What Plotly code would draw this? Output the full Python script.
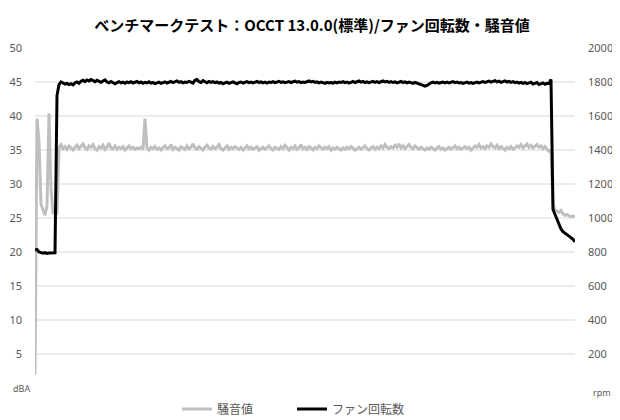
import plotly.graph_objects as go

# ---- data ----
noise_dba = [
    2.0, 39.6, 36.3, 27.0, 26.2, 25.4, 26.8, 40.4, 29.2, 25.8, 26.0, 25.6,
    35.4, 35.8, 35.2, 35.5, 35.1, 35.6, 35.3, 35.0, 35.4, 35.7,
    35.2, 35.5, 35.9, 35.3, 35.1, 35.6, 35.4, 35.8, 35.2, 35.0,
    35.5, 35.3, 35.7, 35.1, 35.4, 36.0, 35.3, 35.2, 35.6, 35.1,
    35.4, 35.2, 35.5, 35.0, 35.3, 35.6, 35.2, 35.4, 35.1, 35.3,
    35.2, 35.4, 35.1, 39.6, 35.3, 35.0, 35.4, 35.2, 35.5, 35.1,
    35.3, 35.0, 35.4, 35.6, 35.2, 35.3, 35.8, 35.1, 35.4, 35.2,
    35.0, 35.5, 35.3, 35.1, 35.6, 35.2, 35.4, 35.9, 35.3, 35.1,
    35.5, 35.2, 35.0, 35.4, 35.7, 35.3, 35.1, 35.5, 35.2, 35.4,
    35.8, 35.2, 35.0, 35.3, 35.6, 35.1, 35.4, 35.2, 35.5, 35.3,
    35.1, 35.4, 35.0, 35.3, 35.6, 35.2, 35.4, 35.1, 35.3, 35.5,
    35.0, 35.2, 35.4, 35.1, 35.3, 35.6, 35.2, 35.0, 35.4, 35.3,
    35.1, 35.5, 35.2, 35.7, 35.3, 35.0, 35.4, 35.2, 35.6, 35.1,
    35.3, 35.8, 35.2, 35.4, 35.1, 35.5, 35.3, 35.0, 35.4, 35.2,
    35.6, 35.3, 35.1, 35.4, 35.2, 35.5, 35.0, 35.3, 35.1, 35.4,
    35.2, 35.0, 35.3, 35.1, 35.4, 35.2, 35.5, 35.3, 35.0, 35.2,
    35.4, 35.1, 35.3, 35.6, 35.2, 35.0, 35.3, 35.5, 35.1, 35.4,
    35.2, 35.6, 35.3, 35.8, 35.4, 35.2, 35.5, 35.3, 35.7, 35.4,
    35.9, 35.3, 35.6, 35.2, 35.5, 35.8, 35.4, 35.2, 35.6, 35.3,
    35.1, 35.4, 35.2, 35.0, 35.3, 35.1, 35.4, 35.2, 35.0, 35.3,
    35.5, 35.1, 35.3, 35.0, 35.2, 35.4, 35.1, 35.3, 35.6, 35.2,
    35.4, 35.1, 35.3, 35.5, 35.2, 35.4, 35.0, 35.3, 35.6, 35.4,
    35.8, 35.3, 35.5, 35.2, 35.6, 35.4, 35.9, 35.5, 35.3, 35.7,
    35.2, 35.5, 35.3, 35.0, 35.4, 35.2, 35.5, 35.1, 35.3, 35.6,
    35.4, 35.8, 35.3, 35.6, 35.9, 35.4, 35.7, 35.3, 35.5, 35.8,
    35.4, 35.6, 35.2, 35.5, 35.1, 34.8, 35.0,
    27.0, 26.2, 26.0, 25.8, 26.1, 25.6, 25.4, 25.5, 25.3, 25.2, 25.3, 25.2,
]

fan_rpm = [
    812, 815, 800, 795, 793, 796, 792, 794, 795, 793, 795, 1720, 1785, 1800,
    1795, 1788, 1792, 1785, 1790, 1783, 1795, 1800, 1792, 1805,
    1810, 1802, 1812, 1806, 1815, 1808, 1802, 1810, 1804, 1798,
    1806, 1812, 1800, 1795, 1803, 1798, 1790, 1797, 1802, 1795,
    1799, 1793, 1800, 1796, 1802, 1794, 1798, 1803, 1795, 1800,
    1792, 1798, 1795, 1801, 1793, 1797, 1790, 1796, 1799, 1792,
    1797, 1801, 1794, 1799, 1803, 1796, 1800, 1806, 1798, 1802,
    1795, 1800, 1797, 1804, 1799, 1793, 1810, 1815, 1802, 1797,
    1808, 1800, 1795, 1803, 1798, 1802, 1796, 1800, 1793, 1797,
    1790, 1795, 1799, 1792, 1797, 1801, 1795, 1790, 1797, 1800,
    1794, 1798, 1802, 1796, 1800, 1795, 1799, 1803, 1797, 1801,
    1795, 1799, 1794, 1800, 1797, 1802, 1796, 1800, 1804, 1798,
    1801, 1796, 1799, 1803, 1797, 1800, 1805, 1799, 1802, 1796,
    1800, 1797, 1802, 1806, 1800, 1804, 1798, 1801, 1795, 1799,
    1796, 1792, 1798, 1794, 1797, 1793, 1799, 1795, 1800, 1797,
    1802, 1796, 1800, 1794, 1798, 1803, 1797, 1800, 1806, 1799,
    1803, 1797, 1801, 1796, 1800, 1804, 1798, 1802, 1797, 1800,
    1806, 1800, 1804, 1798, 1802, 1797, 1801, 1795, 1799, 1803,
    1797, 1801, 1795, 1800, 1796, 1792, 1798, 1794, 1790, 1786,
    1782, 1775, 1780, 1790, 1795, 1799, 1794, 1798, 1793, 1797,
    1800, 1795, 1799, 1794, 1798, 1802, 1796, 1800, 1794, 1797,
    1792, 1796, 1799, 1793, 1797, 1792, 1796, 1800, 1795, 1798,
    1802, 1797, 1800, 1805, 1799, 1803, 1808, 1801, 1805, 1798,
    1803, 1807, 1800, 1804, 1798, 1802, 1796, 1800, 1794, 1798,
    1792, 1797, 1790, 1795, 1799, 1788, 1793, 1797, 1785, 1791,
    1795, 1787, 1792, 1790,
    1815, 1050, 1020, 985, 955, 935, 920, 912, 905, 895, 885, 875, 860,
]

samples = list(range(len(noise_dba)))

dba_ticks = [5, 10, 15, 20, 25, 30, 35, 40, 45, 50]
rpm_ticks = [200, 400, 600, 800, 1000, 1200, 1400, 1600, 1800, 2000]

title_text = "ベンチマークテスト：OCCT 13.0.0(標準)/ファン回転数・騒音値"
noise_name = "騒音値"
fan_name = "ファン回転数"

# ---- figure ----
JP = "Noto Sans CJK JP"
TICK_COLOR = "#595959"
W, H = 612, 412  # page body adds an 8px offset; keeps the figure inside the 620x420 view

fig = go.Figure()
fig.add_trace(go.Scatter(
    x=samples, y=noise_dba, name=noise_name, mode="lines",
    line=dict(color="#BFBFBF", width=3), yaxis="y",
))
fig.add_trace(go.Scatter(
    x=samples, y=fan_rpm, name=fan_name, mode="lines",
    line=dict(color="#000000", width=3), yaxis="y2",
))

# gridlines (no line at the top value)
for v in dba_ticks[:-1]:
    fig.add_shape(type="line", xref="paper", yref="y", x0=0, x1=1, y0=v, y1=v,
                  line=dict(color="#D9D9D9", width=1), layer="below")

fig.update_layout(
    width=W, height=H,
    margin=dict(l=27, r=45, t=40, b=32),
    paper_bgcolor="white", plot_bgcolor="white",
    title=dict(text="<b>" + title_text + "</b>", font=dict(family=JP, size=15, color="#000000"),
               x=304 / W, xref="container", xanchor="center",
               y=1 - 18 / H, yref="container", yanchor="middle"),
    xaxis=dict(range=[samples[0], samples[-1]], visible=False, showgrid=False, zeroline=False,
               automargin=False),
    yaxis=dict(range=[0, 50], tickvals=dba_ticks, showgrid=False, zeroline=False,
               showline=False, ticks="", ticklabelstandoff=12, automargin=False,
               tickfont=dict(family="Noto Sans", size=11, color=TICK_COLOR)),
    yaxis2=dict(range=[0, 2000], tickvals=rpm_ticks, overlaying="y", side="right",
                showgrid=False, zeroline=False, showline=False, ticks="", ticklabelstandoff=12,
                automargin=False,
                tickfont=dict(family="Noto Sans", size=11, color=TICK_COLOR)),
    showlegend=True,
    legend=dict(orientation="h", xref="container", yref="container",
                x=169 / W, y=1 - 401 / H, xanchor="left", yanchor="middle",
                entrywidth=70, entrywidthmode="pixels", itemwidth=30,
                font=dict(family=JP, size=12, color=TICK_COLOR), bgcolor="rgba(0,0,0,0)"),
)

fig.add_annotation(text="dBA", xref="paper", yref="paper", x=0, y=0, xshift=-14, yshift=0,
                   showarrow=False, font=dict(family="Noto Sans", size=9, color=TICK_COLOR),
                   xanchor="center", yanchor="middle")
fig.add_annotation(text="rpm", xref="paper", yref="paper", x=1, y=0, xshift=27, yshift=-4,
                   showarrow=False, font=dict(family="Noto Sans", size=9, color=TICK_COLOR),
                   xanchor="center", yanchor="middle")

fig.write_html("out.html")
